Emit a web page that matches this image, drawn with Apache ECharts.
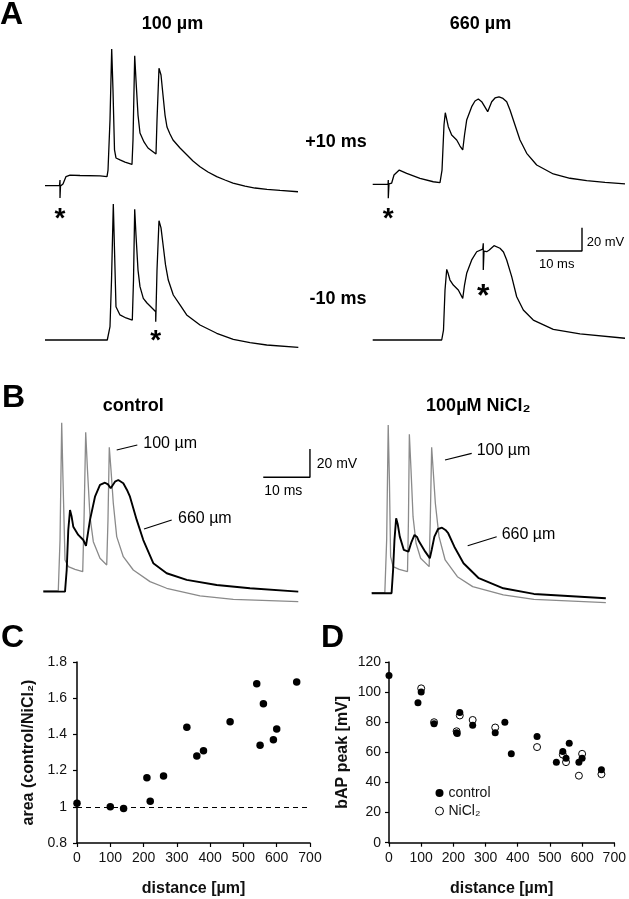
<!DOCTYPE html>
<html>
<head>
<meta charset="utf-8">
<script src="https://cdn.jsdelivr.net/npm/echarts@6/dist/echarts.min.js"></script>
<style>
  html, body { margin: 0; padding: 0; background: #fff; }
  #chart { width: 629px; height: 899px; }
</style>
</head>
<body>
<div id="chart"></div>
<script>
// traces: [time ms, mV relative to start baseline]
const a100Plus = [[0,0],[3.15,0],[3.26,4.9],[3.26,-10.6],[3.37,-0.3],[3.91,1.5],[4.57,7.9],[5.43,9.2],[7.61,8.8],[11.96,8.4],[13.48,7.9],[13.7,13.5],[14.13,56.6],[14.5,117.8],[14.78,82.5],[15.11,30.8],[15.43,23.9],[16.3,22.2],[17.39,20.4],[18.91,18.3],[19.13,39.4],[19.5,112.1],[19.78,91.1],[20.22,60.9],[20.65,45.4],[21.52,37.7],[22.39,32.5],[23.26,29.9],[24.13,27.3],[24.35,56.6],[24.78,101.2],[25.22,95.4],[25.65,78.2],[26.09,60.9],[26.52,50.6],[27.17,44.6],[27.83,39.4],[29.35,32.5],[30.87,26.5],[32.17,21.3],[33.7,16.4],[35.43,11.8],[37.33,7.8],[39.13,4.9],[40.87,2.3],[43.48,-0.3],[45.65,-2.0],[48.26,-3.1],[51.09,-4.1],[55,-5.2]]
const a100Minus = [[0,0],[13.54,0],[14.13,11.5],[14.46,51.7],[14.85,117.2],[15.11,77.6],[15.43,28.7],[16.3,21.6],[17.61,19],[18.98,17.2],[19.24,51.7],[19.5,112.7],[19.78,90.5],[20.22,60.3],[20.65,46],[21.37,35.9],[22.17,31.9],[22.83,29.3],[24.07,24.4],[24.07,15.8],[24.13,24.4],[24.35,60.3],[24.78,102.8],[25.22,96.6],[25.72,80.4],[26.2,64.7],[26.8,51.7],[27.89,38.8],[29.35,30.2],[30.8,21.6],[33.7,12.9],[37.33,5.8],[40.93,0.6],[44.57,-2.2],[48.2,-4.3],[55.07,-6.3]]
const a660Plus = [[0,0],[3.33,0],[3.39,3.7],[3.39,-12.1],[3.54,0.3],[4.13,1.1],[4.63,8],[5.78,12.3],[7.39,9.5],[10.28,5.2],[13.17,2.2],[14.63,1.4],[15.07,12.3],[15.5,51.1],[15.78,61.7],[16.43,49.7],[17.17,42.5],[18.26,38.2],[18.98,33],[19.57,29.6],[19.96,42.5],[20.43,55.4],[21.52,66.9],[22.24,71.8],[22.96,73.5],[23.76,70.9],[25,62.6],[25.87,71.2],[26.59,74.4],[27.46,75.3],[28.33,74],[29.13,71.2],[29.85,64],[30.57,55.4],[32.02,38.2],[33.48,26.7],[35.65,16.6],[39.26,8.9],[42.89,5.2],[46.52,3.1],[50.5,1.6],[54.85,0.3]]
const a660Minus = [[0,0],[15,0],[15.39,8.6],[15.72,43.1],[16.09,60.9],[16.37,57.8],[16.8,51.7],[17.52,47.4],[18.61,43.1],[19.57,35.9],[19.96,47.4],[20.43,57.5],[21.52,69],[22.61,76.1],[23.91,78.4],[24.04,83.4],[24.04,60.3],[24.2,76.7],[24.78,76.1],[25.35,77.6],[26.37,81.3],[27.67,79.1],[28.43,75.9],[29.13,69],[30.22,54.6],[31.3,37.3],[32.74,25.9],[34.91,17.2],[39.26,9.2],[45.07,5.2],[54.85,1.5]]

const ctrl100 = [[0,0.2],[3.21,0.2],[3.58,36],[3.94,118.9],[4.22,78.4],[4.65,21.9],[5.35,17.2],[6.79,15.3],[8.44,13.6],[8.72,50.2],[9.08,112.1],[9.46,85.5],[10,52.5],[10.71,34.8],[12.14,23.1],[13.58,18.4],[13.85,50.2],[14.13,101.6],[14.5,85.5],[14.99,62],[15.72,38.4],[17.13,24.2],[19.27,14.8],[22.85,6.6],[26.42,1.9],[33.55,-3.5],[40.69,-5.9],[54.6,-7.6]]
const ctrl660 = [[0,-0.5],[4.65,-0.5],[5.01,14.8],[5.35,43.1],[5.72,57.2],[6.04,53],[6.42,45.4],[7.49,39.6],[8.57,36],[9.14,31.8],[9.57,41],[10,50.2],[11.07,66.6],[12.14,74.9],[13.21,76.5],[13.85,75.3],[14.43,72.6],[15.35,77.2],[16.06,78.4],[17.13,76.1],[17.92,71.4],[18.56,66.6],[20,50.2],[21.41,36],[23.55,19.6],[26.42,12.5],[30.71,7.8],[37.13,4.2],[44.26,1.9],[54.6,-0.5]]
const ni100 = [[0,0.2],[3.06,0.2],[3.49,37.5],[3.85,118.7],[4.13,79.9],[4.41,25.7],[4.99,18.6],[6.42,16.7],[8.35,15.1],[8.57,51.6],[8.78,112.2],[9.17,86.9],[9.64,53.9],[10.34,35.1],[11.41,24.5],[13.4,18.6],[13.66,51.6],[13.98,103],[14.41,83.4],[14.84,63.4],[15.7,39.8],[17.13,23.3],[19.98,11.5],[23.55,4.5],[30.69,-1.4],[37.82,-4.5],[54.6,-6.9]]
const ni660 = [[0,-0.2],[4.63,-0.2],[4.99,16.3],[5.31,37.5],[5.7,52.8],[6.06,48.8],[6.55,39.8],[7.49,30.4],[8.57,29.2],[9.27,36],[9.98,41],[10.56,39.6],[11.05,36.3],[12.48,29.2],[13.55,24.5],[13.98,30.4],[14.62,39.8],[15.48,45.2],[16.4,46.1],[17.19,44.5],[17.84,42.2],[19.27,32.7],[21.41,21],[24.97,10.4],[30.69,3.3],[37.82,-0.7],[54.6,-3.7]]

// scale bars, 10 ms x 20 mV, in trace units
const scaleA = [[35.5,76.7],[45.5,76.7],[45.5,96.7]]
const scaleB = [[47.1,80.4],[57.1,80.4],[57.1,100.4]]

// panel C
const distC = [0, 100, 140, 210, 220, 260, 330, 360, 380, 460, 540, 550, 560, 590, 600, 660]
const areaC = [1.02, 1.0, 0.99, 1.16, 1.03, 1.17, 1.44, 1.28, 1.31, 1.47, 1.68, 1.34, 1.57, 1.37, 1.43, 1.69]

// panel D
const distCtrl = [0, 90, 100, 140, 210, 212, 220, 260, 330, 360, 380, 460, 520, 540, 550, 560, 590, 600, 660]
const peakCtrl = [111, 93, 100, 79, 73, 72.5, 86.5, 78, 73, 80, 59, 70.5, 53.5, 60.5, 56, 66, 53.5, 56, 48.5]
const distNi = [100, 140, 210, 220, 260, 330, 460, 540, 550, 590, 600, 660]
const peakNi = [102.5, 80, 74, 84.5, 81.5, 76.5, 63.5, 58.5, 53.5, 44.5, 59, 45.5]

const FONT = 'Liberation Sans, Arial, sans-serif'
const zip = (a, b) => a.map((v, i) => [v, b[i]])

const chart = echarts.init(document.getElementById('chart'))

// trace grids: A 4.6 px/ms, 1.16 px/mV; B 4.67 px/ms, 1.415 px/mV
const grids = [
  { left: 45, top: 34.9, width: 253, height: 185.6 },
  { left: 45, top: 189.2, width: 253, height: 185.6 },
  { left: 372.7, top: 33.5, width: 253, height: 185.6 },
  { left: 372.7, top: 189.2, width: 253, height: 185.6 },
  { left: 43.3, top: 407, width: 280.2, height: 212.25 },
  { left: 371.7, top: 409, width: 280.2, height: 212.25 },
  { left: 77, top: 662, width: 233, height: 181 },
  { left: 389, top: 662, width: 225.3, height: 180.7 },
]

const hiddenX = (i, max) => ({ type: 'value', gridIndex: i, min: 0, max, show: false })
const hiddenY = (i, min, max) => ({ type: 'value', gridIndex: i, min, max, show: false })

const axisCommon = {
  axisLine: { lineStyle: { color: '#000', width: 1.5 } },
  axisTick: { inside: false, length: 4, lineStyle: { color: '#000', width: 1.2 } },
  splitLine: { show: false },
  nameLocation: 'middle',
  nameTextStyle: { fontFamily: FONT, fontWeight: 'bold', fontSize: 16, color: '#111' },
}
const labelCommon = { fontFamily: FONT, fontSize: 14, color: '#111' }

function trace(data, i, color, width) {
  return {
    type: 'line', data, xAxisIndex: i, yAxisIndex: i,
    symbol: 'none', lineStyle: { color, width }, silent: true, z: color === '#000' ? 3 : 2,
  }
}

function txt(text, x, y, size, bold, align) {
  return {
    type: 'text', x, y,
    style: {
      text, fontFamily: FONT, fontSize: size, fontWeight: bold ? 'bold' : 'normal',
      fill: '#000', textAlign: align || 'left', textVerticalAlign: 'middle',
    },
  }
}
function seg(x1, y1, x2, y2) {
  return { type: 'line', shape: { x1, y1, x2, y2 }, style: { stroke: '#000', lineWidth: 1.2 } }
}

chart.setOption({
  animation: false,
  grid: grids,
  xAxis: [
    hiddenX(0, 55), hiddenX(1, 55), hiddenX(2, 55), hiddenX(3, 55),
    hiddenX(4, 60), hiddenX(5, 60),
    { ...axisCommon, type: 'value', gridIndex: 6, min: 0, max: 700, interval: 100,
      name: 'distance [µm]', nameGap: 38, axisLabel: { ...labelCommon, margin: 8 } },
    { ...axisCommon, type: 'value', gridIndex: 7, min: 0, max: 700, interval: 100,
      name: 'distance [µm]', nameGap: 38, axisLabel: { ...labelCommon, margin: 8 } },
  ],
  yAxis: [
    hiddenY(0, -30, 130), hiddenY(1, -30, 130), hiddenY(2, -30, 130), hiddenY(3, -30, 130),
    hiddenY(4, -20, 130), hiddenY(5, -20, 130),
    { ...axisCommon, type: 'value', gridIndex: 6, min: 0.8, max: 1.8, interval: 0.2,
      name: 'area (control/NiCl₂)', nameGap: 40, axisLabel: { ...labelCommon, margin: 10 } },
    { ...axisCommon, type: 'value', gridIndex: 7, min: 0, max: 120, interval: 20,
      name: 'bAP peak [mV]', nameGap: 38, axisLabel: { ...labelCommon, margin: 8 } },
  ],
  legend: {
    data: ['control', 'NiCl₂'],
    orient: 'vertical', left: 430, top: 781,
    itemWidth: 8, itemHeight: 8, itemGap: 4,
    itemStyle: { borderWidth: 1 },
    textStyle: { fontFamily: FONT, fontSize: 14, color: '#111' },
    selectedMode: false,
  },
  series: [
    trace(a100Plus, 0, '#000', 1.3),
    trace(a100Minus, 1, '#000', 1.3),
    trace(a660Plus, 2, '#000', 1.3),
    trace(a660Minus, 3, '#000', 1.3),
    trace(scaleA, 3, '#000', 1.4),
    trace(ctrl100, 4, '#8a8a8a', 1.3),
    trace(ctrl660, 4, '#000', 1.9),
    trace(scaleB, 4, '#000', 1.4),
    trace(ni100, 5, '#8a8a8a', 1.3),
    trace(ni660, 5, '#000', 1.9),
    {
      type: 'scatter', xAxisIndex: 6, yAxisIndex: 6, data: zip(distC, areaC),
      symbolSize: 7.5, itemStyle: { color: '#000', opacity: 1 }, silent: true,
      markLine: {
        silent: true, symbol: 'none', label: { show: false },
        lineStyle: { color: '#000', width: 1, type: [5, 4] },
        data: [{ yAxis: 1 }],
      },
    },
    {
      name: 'NiCl₂', type: 'scatter', xAxisIndex: 7, yAxisIndex: 7, data: zip(distNi, peakNi),
      symbolSize: 7, itemStyle: { color: '#fff', borderColor: '#000', borderWidth: 1, opacity: 1 }, silent: true,
    },
    {
      name: 'control', type: 'scatter', xAxisIndex: 7, yAxisIndex: 7, data: zip(distCtrl, peakCtrl),
      symbolSize: 7, itemStyle: { color: '#000', opacity: 1 }, silent: true,
    },
  ],
  graphic: [
    txt('A', 0, 15, 32, true),
    txt('B', 2, 398, 32, true),
    txt('C', 1, 638, 32, true),
    txt('D', 321, 638, 32, true),
    txt('100 µm', 172.5, 24, 18, true, 'center'),
    txt('660 µm', 480.5, 24, 18, true, 'center'),
    txt('+10 ms', 336, 142, 18, true, 'center'),
    txt('-10 ms', 338, 299, 18, true, 'center'),
    txt('20 mV', 586.7, 242, 13),
    txt('10 ms', 556.7, 264, 13, false, 'center'),
    txt('control', 133.3, 406, 18, true, 'center'),
    txt('100µM NiCl₂', 478.3, 406, 18, true, 'center'),
    txt('100 µm', 143.3, 444, 16),
    txt('660 µm', 178, 519, 16),
    txt('100 µm', 476.7, 451, 16),
    txt('660 µm', 501.7, 535, 16),
    txt('20 mV', 316.7, 464, 14),
    txt('10 ms', 283.3, 491, 14, false, 'center'),
    seg(116.7, 450, 137.3, 445),
    seg(144, 529, 171.7, 520),
    seg(445, 460, 471.7, 453.3),
    seg(467.7, 545.7, 496.7, 536.7),
    txt('*', 60, 219, 28, true, 'center'),
    txt('*', 155.7, 341, 28, true, 'center'),
    txt('*', 388.3, 219, 28, true, 'center'),
    txt('*', 483.3, 297, 32, true, 'center'),
  ],
})
</script>
</body>
</html>
